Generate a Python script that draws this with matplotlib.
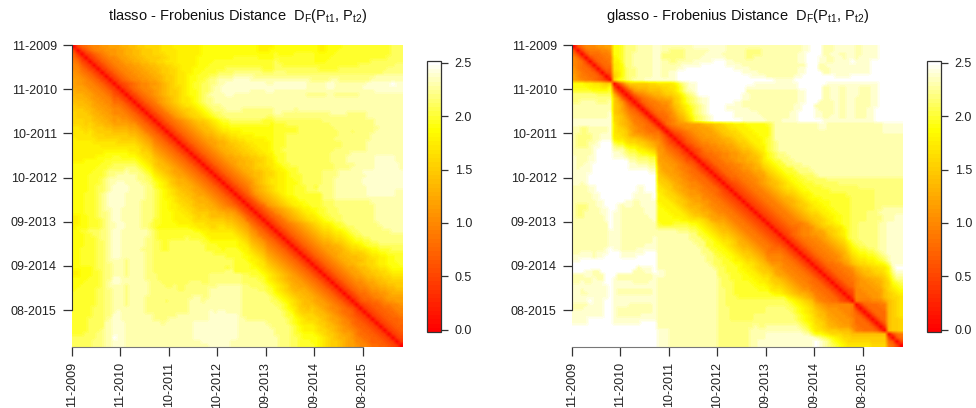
import numpy as np
import matplotlib
matplotlib.use("Agg")
import matplotlib.pyplot as plt
from matplotlib.colors import LinearSegmentedColormap

plt.rcParams["font.family"] = ["Liberation Sans", "DejaVu Sans"]
plt.rcParams["mathtext.fontset"] = "custom"
plt.rcParams["mathtext.rm"] = "Liberation Sans"
plt.rcParams["mathtext.it"] = "Liberation Sans"

# time axis labels, one every 12 months
date_labels = ["11-2009", "11-2010", "10-2011", "10-2012", "09-2013", "09-2014", "08-2015"]
cbar_ticks = [0.0, 0.5, 1.0, 1.5, 2.0, 2.5]
n_months = 82

# upper triangle of each distance matrix.
# each row starts on the diagonal, one character per month, base 36 in tenths (a = 1.0, p = 2.5)
tlasso_rows = [
    "05789aabbc ccddeeffgg gghhhiiiii iijjjjjjjj jjjjjjiiii jjjjjjjjjj jiijjjjkkk kkkkkkkkkl ll",
    "04689aabb bccddeefff gghhhhiiii iijjjjjjjj jjjjjjiiij jjjjjjjjjj jiijjjkkkk kkkkkkkkkl ll",
    "045789ab bccddeefff ggghhhiiii iijjjjjjjj jjjjjjjjjj kjjjjkkkkk jjjjjkkkkk kkkkkkkkkl ll",
    "045789a abccddeeff ffgghhiiii ijjjjjjjjj kkkkkkjjjj kkkkkkkkkk jjjjkkkkkk kkkkkkkkll ll",
    "045789 aabccddeef fgghhhiiii ijjjjkkkkk kkkkkkkkkk lkkkkkkkkk jjjkkkkkkk kkkkllllll ll",
    "04578 9aabbccdde effgghhiii ijjjkkkkkk kkkkkkkkkk llkkkkkkkk kkkkkkkkkk kllllllll lm",
    "0457 89aabbccdd eeffgghiii jjjkkkkkll lllllllkkk llllllllll lkkkkkllll llllllllmm mm",
    "045 789aabbccd deffgghhii jjkkkkllll mmmmmmmlll mmmlllllll llllllllll lllllllmmm mm",
    "04 5789aabbcc ddeffghhij jkkkllmmmm nnnnnmmmmm mmmmmmmmmm mmmmmmmmmm mmmmmnnnnn nn",
    "0 45789aabbc cdeffghhij jkklmmnnnn oooonnnnnn nnnnnnnnnm mmmmnnmmmm mmmmnnnnnn nn",
    "0456789aab bcdefghhij kkllmmnnoo oooooooonn oooooooonn nnnoonnnnn nnnoooooop oo",
    "045789aab ccdefgghij kkllmnnooo oooooooooo oooooooonn nnnoonnnnn nnoooooooo oo",
    "045789aa bcdeffghij jkllmnnooo oooonnnnoo nnnnnnnnnn nnnnnnnnnn nnnnnooooo oo",
    "045789a bcdeffghij jklmnnnnoo nnnnnnnnnn nnnnnnnnmm mmmnnmmmmm mnnnnnnnnn nn",
    "045789 abcdefghhi jklmmnnnnn nnnnnnnnnn nnnnnnnnnn nnnnnnnnnn nnnnnnnnnn nn",
    "04578 9bcdefghhi jklmmnnnnn nnnnnnnnnn nnnnnnnnnn nnnnnnnnnn nnnnnnnnnn nn",
    "0457 89bcdefghh ijklmmmnnn nnnnnnnnnn nnnnnnnnnn nnnnnnnnnn nnnnnnnnnn nn",
    "045 789bcdeffg hijklmmmnn nnmmmmmmmm nnnnnmnnnn nnnnnnnnnn nnnnnnnnnn nn",
    "04 5789bcdefg ghijkllmmm mmmmmmmmmm nnmmmmmmmm mmmmnnnnmm mmmnnnnnnn nn",
    "0 45789bcdef gghijkllmm mmmmmmmmll mmmmmmmmmm mmmmmmmmmm mmmnnnnnnn nn",
    "045789abcd effghijkkl lllllllkkk llllllllll llmmmmmmmm mmmmmnnnnn nn",
    "045789abc deefghijjk kkkkkkkkkj kkklllllll llllmmmmmm mmmmmnnnnn nn",
    "045789ab cdeefghiij jjjjjjjjjj kkkkkklllll llllmmmmmm mmmmmnnnnn nn",
    "045789a bcdeefghhi iijjjjjjjj kkkkkkllll llllllmmml mmmmmnnnnn nn",
    "045789 abcddeffgh hiiiijjjjj kkklllllll llllllmmmm mmmmnnnnnn nn",
    "04578 9abccdeefg ghhiiiiijj kkklllllll lllllmmmmm mmmmnnnnnn nn",
    "0457 89abccddef fgghhiiiij kkklllllll lllllllmmm mmmnnnnnnn nn",
    "045 789abcddee ffgghhiiij kkklllllll lllllllmmm mmmnnnnnnn nn",
    "04 5789abcdde effgghhiij kkllllllll lllllmmmmm mmmnnnnnnn nn",
    "0 45789abcdd eeffgghhii kkklllllll llllmmmmmn nnnnnnnnnn nn",
    "045789abcc ddeeffgghi jkkllllll l llllmmmmnn nnnnnooooo nn",
    "045789abc cddeeffghh jkkllllll l llllmmmmnn nnnnnooooo nn",
    "045789ab cddeefgghh ijkklllllll llllmmmmmn nnnnoooooo nn",
    "045789a bcddeffggh iijkkklllll llllmmmmnn nnnnoooooo nn",
    "045789 abcddeefgg hiijkkllll llmmmmnnn nnnooooooo oo",
    "04578 9abcdeefgg hiijkkklll llmmmmnnnn nnnoooooooo oo",
    "0457 89abcdefgh hiijjkklll llmmmnnnnn nnooooooooo oo",
    "045 789abdefgh hiijjjklll llmmmnnnnn nnoooooooo oo",
    "04 5789bcdefg hiijjkkkll kmmmmnnnnn nnnoooooo oo",
    "0 4578acdefg hiijjkkkll lmmmmnnnnn nnnooooooo nn",
    "04579bcdef ghijjkkkkk kkmmmnnnnn nnnooooooo nn",
    "04579bcde fghiijkkkk kkmmmnnnnn nnnnnnnnnn nn",
    "04579bcd efghiijjkk kklllmmmmm mmmmnnnnnn nn",
    "04578bc defghiijjk kklllmmmmm mmmmmnnnnn nn",
    "04578a bcdefghiij jkklllmmmm mmmmmnnnnn nn",
    "04578 abcdefghii jkklllmmmm mmmmmnnnnn nn",
    "0457 89bcdefghh ijkklllmmm mmmmmnnnnn nn",
    "045 789bcdefgh hijkkllmmm mmmmmnnnnn nn",
    "04 5789abcdef ghiijkklmm mmmmmmnnnn nn",
    "0 45789abcde fghhijkkll mmmmmmmnnn nn",
    "045789abcd efgghiijkl lmmmmmmmmn nn",
    "045789abc deffghhijk llmmmmmmmm mm",
    "045789ab cdeefgghij kkllmmmmmm mm",
    "045789a bcddeffghi jjkkllmmmm mm",
    "045789 abccddefgh hijkkkllll ll",
    "04578 9abccddefg ghhijjkkkl ll",
    "0457 89abccdeef ffghiijjkk kk",
    "045 789abcddee effghhiijj kk",
    "04 5789abcdde eefgghiijj kk",
    "0 45789abcdd effgghiijj jk",
    "045789abcc deefgghhij jj",
    "045789abc cdeeffgghi ii",
    "045789ab ccdeeffggh hh",
    "045789a bbcddeeffg gg",
    "045789 aabccdeeff ff",
    "04578 9aabccddee ff",
    "0457 899abbccdd ee",
    "045 7889aabbcd dd",
    "04 57889aabcc cc",
    "0 4677889abb cc",
    "045677899a ab",
    "045677889 aa",
    "04567788 9a",
    "0456778 89",
    "045677 78",
    "04567 78",
    "0456 77",
    "045 67",
    "04 56",
    "0 45",
    "04",
    "0",
]

glasso_rows = [
    "068aaabbcc jjkmmmnnnn oonnnnnnnn oooooooonn nnnnnnnnnn nnnnnnnoop ppnnnooooo nnoooopppp pp",
    "058999aab jjkmmmnnnn oonnmmmmnn nnnnoooonn nnnmmmmnnn nnnnnnnoop ppnnnooooo nnoooopppp pp",
    "0588899a jjkmmnnnnn oommmmmmnn nnnoooonnn nnnmmmmnnn nnnnnnoopp ppnnoonnoo nnoooopppp pp",
    "0578899 ijkmmnnnnn oommmmmmnn nnoooooonn nnnmmnnnnn nnnnnnoopp poonnoonoo nooooopppp pp",
    "057889 iikmmnnnnn oonnmmnnnn ooooopppoo nnnnnnnnnn nnnnnnoopp poonnoooop oooopppppp pp",
    "05788 hijmmnnnnn oonnnnnooo ooppppppoo oonnnnnnnn nnnnnnnnpp pnnooooooo oooopppppp pp",
    "0577 hijlmmnnnn oonnnnoopp pppppppppp oooonnnnnn nnnnnnoopp pnnnoooooo oooopppppp pp",
    "056 ghjlmmnnnn oonnoopppp pppppppppp ppoooonnnn nnnnnnoopp ppnnoooooo oooopppppp pp",
    "04 fhjlmmnnnn oonnoopppp pppppppppp ppppoooonn nnnnnooppp pppppoooop pppppppppp pp",
    "0 gjklmnnnoo oooooopppp pppppppppp pppppppppp oooooppppp pppppppppp pppppppppp pp",
    "059dfffffg ghhhhikmno oppppppppp pppppooooo oooooopppp pppooooooo oooooopppp pp",
    "048cdeeef ffgghhjlno oppppppppp pppooooooo oooooopppp ppnnoonnoo onnnoopppp pp",
    "047bccde eefgghjlnn oppppppppp pppnnnnnnn nnnnnnoopp ppnnoonnoo onnnoopppp pp",
    "0479abc ddeffghjlm nppppppppp ppoonnnnnn nnnnnnoopp ppnnoonnoo onnnoopppp pp",
    "04689a bccddfgikl mnoopppppp ppoonnnnnn nnnnnnoopp ppnnoonnoo nnnnoopppp pp",
    "04789 9abbcfgikl mnoopppppp oonnnnnnnn nnnnnnoopp pnnnnonnoo nnnnoopppp pp",
    "0478 99aacefhik lmnoppppoo oonnnnnnnn nnnnnooppp nnnnnonnoo nnnnoopppp pp",
    "047 899abdfgij lmnoppppoo oooonnnnnn nnnnnooppp onnnnonnoo nnnooppppp pp",
    "04 7889acefhj lmnopppppp oooooonnnn nnnnoopppp oonnnonnoo nnnooppppp pp",
    "0 4788abdegi klmnoppppp ooooooonnn nnnnoopppp oonnoonnoo nnnooppppp pp",
    "04789acdfh klmnoppppp ppoooooonn nnoooopppp ppoooooooo oooooppppp pp",
    "0489abbbc ccdeeffghh iiijjjjjkl nnnnnnnnnn noonnnnnnn nnnnnnnooo oo",
    "04789abb bcccdeffgh hiiijjjjjl nnnnnnnnnn noonnnnnnn nnnnnnnooo oo",
    "046789a bbcccdeffg ghiiijjjjl nnnnnnnnnn nnnnnnnnnn nnnnnnnooo oo",
    "045789 abbcccdeff gghiiijjjl nnnnnnnnnn nnnnnnnnnn nnnnnnnnnn nn",
    "04578 9abbbccdde fgghiiijkl nnnnnnnnnn nnnnnnnnnn nnnnnnnnnn nn",
    "0467 89aabbccdd effghiijkl mnnnnnnnnn nnnnnnnnnn nnnnnnnnnn nn",
    "045 7899aabbcc deffghiikl mnnnnnnnnn nnnnnnnnnn nnnnnnnnnn nn",
    "04 56899aabbc cdeefghikl mnnnnnnnnn nnnnnnnnnn nnnnnnnnnn nn",
    "0 4678899aab bcddefghjk lmmnnnnnnn nnnnnnnnnn nnnnnnnnnn nn",
    "0467889aab bccdeefhjk lmmmnnnnnn nnnnnnnnnn nnnnnnnnnn nn",
    "0457889aa bccddefhij kkmmmnnnnn nnnnnnnnnn nnnnnnnnnn nn",
    "04578899 aabccdeghi jkkmmmmnnn nnnnnnnnnn nnnnnnnnnn nn",
    "0457889 9abbcddfgh ijkkkmmmmn nnnnnnnnnn nnnnnnnnnn nn",
    "045788 99aabccdfg hijkkkmmmm nnnnnnnnnn nnnnnnnnnn nn",
    "04578 899aabccef ghijjkklll mnnnnnnnnn nnnnnnnnnn nn",
    "0457 7899aabcde fghijjkkll lllmmmmmmm mmmmmmmmmm mm",
    "045 67899abcde efghijjkkk llllllmmmm mmmmmmmmmm mm",
    "04 567899abcd efghhijjkk kkllllllll lmmmmmmmmm mm",
    "0 4567899abc defgghijjk kkkkllllll lllllmmmmm mm",
    "04567899ab cdeffghiij kkkkkkkkll lllllmmmmm mm",
    "04567899a bcddefghij jjkkkkkkkl lllllmmmmm mm",
    "04567899 abcddefghi ijjjkkkkkl lllllmmmmm mm",
    "0456789 9abcdeffgh iijjkkkkkl lllllmmmmm mm",
    "045678 99abcdefgh hiijjkkkkl lllllmmnnn nn",
    "04567 899abcdefg ghiijjkkkl lllmmmnnnn nn",
    "0456 7899abcdef fghiijjkkl lllmmmmnnn oo",
    "045 67899abcde ffghijjkkl lllmmmmnnn oo",
    "04 5678999abd efghhijkkl lmmmmmnnoo oo",
    "0 4567889aab deffghhjkl lmmmmmnnoo oo",
    "0456789aab ccdffghikl lmmmmmnnoo oo",
    "045789aab bccefghikl lmmmmmnnoo oo",
    "0457899a abcdefghkl lmmmmmnnoo oo",
    "0457899 aabcdefgik llmmmmnnoo oo",
    "045789 9aabcdefhj kllmmmnnoo oo",
    "04578 99aabcdegi jkkllmnnoo oo",
    "0457 899aabcdfh ijjkklmnoo oo",
    "045 7899aabdeg hiijjklmno oo",
    "04 57899abcdf ghhiijklno oo",
    "0 4578899bce fgghhiijlo oo",
    "04578899ab deffgghhjn pp",
    "04578899a cdeefgghjm oo",
    "04578899 bcdeeffgil nn",
    "0457889 abccddefhk mm",
    "045788 abbccddfgj kl",
    "04578 abbbccdfgi jk",
    "0456 aabbbccegh ij",
    "045 aaabbbcefg hi",
    "04 aaaabbcefg gh",
    "0 9999aaacef gh",
    "04788899ef gh",
    "0478889ef gh",
    "047888ef gh",
    "04788ef gh",
    "0478ef fg",
    "047ef fg",
    "04ef fg",
    "0ef fg",
    "05 89",
    "0 68",
    "05",
    "0",
]


def rows_to_matrix(rows):
    """Build the symmetric matrix from the typed upper triangle"""
    mat = np.zeros((n_months, n_months))
    for i, row in enumerate(rows):
        vals = [int(c, 36) / 10 for c in row.replace(" ", "")]
        vals = vals[:n_months - i]
        vals += [vals[-1]] * (n_months - i - len(vals))
        mat[i, i:] = vals
        mat[i:, i] = vals
    return mat


heat = LinearSegmentedColormap.from_list(
    "heat", [(0.0, "#ff0000"), (0.75, "#ffff00"), (1.0, "#ffffff")], N=64)

W, H = 976, 408
fig = plt.figure(figsize=(W / 100, H / 100), dpi=100)


def px_axes(x0, y0, x1, y1):
    return fig.add_axes([x0 / W, 1 - y1 / H, (x1 - x0) / W, (y1 - y0) / H])


panels = [
    ("tlasso", tlasso_rows, 72, 403, 427, 441),
    ("glasso", glasso_rows, 572, 903, 927, 941),
]
tick_pos = np.arange(len(date_labels)) * 12
dark = "#333333"

for name, rows, x0, x1, cx0, cx1 in panels:
    ax = px_axes(x0, 45, x1, 347)
    im = ax.imshow(rows_to_matrix(rows), cmap=heat, vmin=-0.02, vmax=2.52, aspect="auto",
                   extent=[0, n_months, n_months, 0], interpolation="bilinear")
    ax.set_xticks(tick_pos)
    ax.set_xticklabels(date_labels, rotation=90)
    ax.set_yticks(tick_pos)
    ax.set_yticklabels(date_labels)
    ax.tick_params(axis="both", length=6.5, width=0.9, color=dark, labelcolor="#222222",
                   labelsize=9, pad=4.5)
    ax.spines["top"].set_visible(False)
    ax.spines["right"].set_visible(False)
    ax.spines["left"].set_bounds(0, 72)
    ax.spines["bottom"].set_bounds(0, 72)
    ax.spines["left"].set_color(dark)
    ax.spines["bottom"].set_color("#777777")
    ax.set_title(name + r" - Frobenius Distance  D$_{\mathrm{F}}$(P$_{\mathrm{t1}}$, P$_{\mathrm{t2}}$)",
                 fontsize=10.5, color="#111111", pad=18)

    cax = px_axes(cx0, 60.5, cx1, 332)
    cb = fig.colorbar(im, cax=cax, ticks=cbar_ticks)
    cb.ax.set_yticklabels(["%.1f" % t for t in cbar_ticks])
    cb.ax.tick_params(length=5.3, width=0.9, color=dark, labelcolor="#222222", labelsize=9, pad=4.5)
    cb.outline.set_edgecolor(dark)
    cb.outline.set_linewidth(0.9)

fig.savefig("out.png", dpi=100)
